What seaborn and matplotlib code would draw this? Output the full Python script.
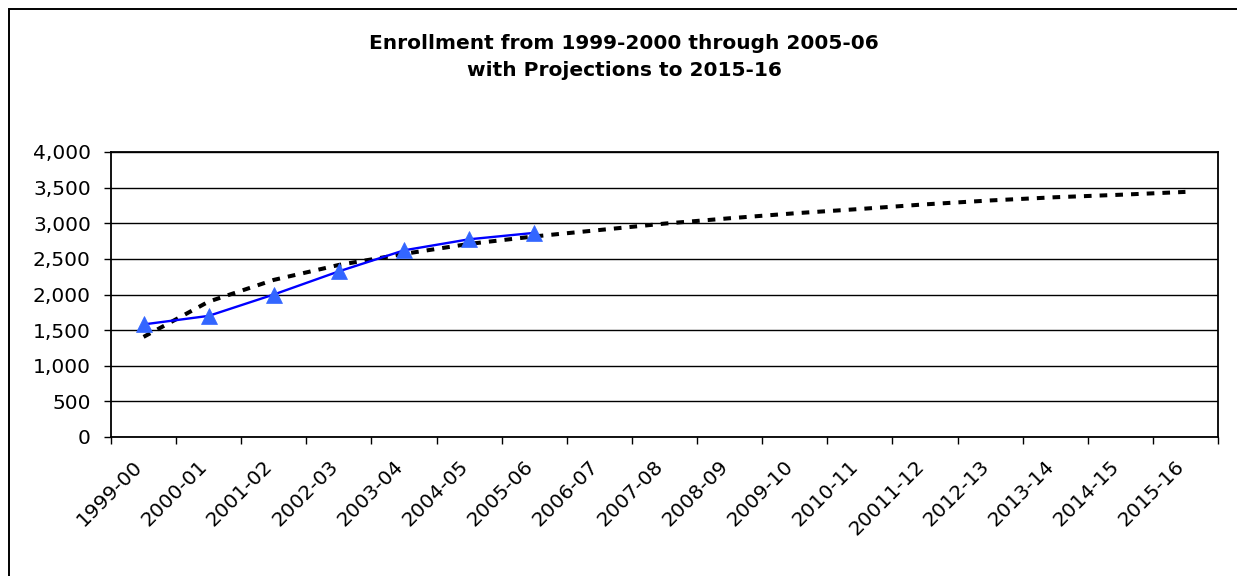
import matplotlib
matplotlib.use("Agg")
import matplotlib.pyplot as plt
import matplotlib.ticker as mticker
from matplotlib.transforms import ScaledTranslation
from matplotlib.patches import Rectangle
import numpy as np
import pandas as pd
import seaborn as sns

# School years on the category axis
years = ["1999-00", "2000-01", "2001-02", "2002-03", "2003-04", "2004-05",
         "2005-06", "2006-07", "2007-08", "2008-09", "2009-10", "2010-11",
         "20011-12", "2012-13", "2013-14", "2014-15", "2015-16"]

# Actual enrollment, 1999-00 through 2005-06
actual = [1580, 1700, 2000, 2325, 2620, 2775, 2865]

# Projected enrollment trend, 1999-00 through 2015-16
projected = [1405, 1900, 2205, 2415, 2570, 2710, 2815, 2905, 2995, 3070,
             3140, 3200, 3265, 3320, 3365, 3400, 3440]

y_ticks = [0, 500, 1000, 1500, 2000, 2500, 3000, 3500, 4000]

sns.set_theme(style="white")
plt.rcParams["font.family"] = ["DejaVu Sans"]

W, H = 1237, 576
fig = plt.figure(figsize=(W / 100, H / 100), dpi=100)
fig.patch.set_facecolor("white")

# outer chart frame (left and top edges show)
fig.add_artist(Rectangle((9 / W, -0.1), 1.2, (H - 9) / H + 0.1,
                         transform=fig.transFigure, fill=False,
                         edgecolor="black", linewidth=1.4))

ax = fig.add_axes([111 / W, (H - 437) / H, (1218 - 111) / W, (437 - 152) / H])
ax.set_facecolor("white")

pos_all = np.arange(len(years)) + 0.5
df_proj = pd.DataFrame({"pos": pos_all, "enrollment": projected})
df_act = pd.DataFrame({"pos": pos_all[:len(actual)], "enrollment": actual})

sns.lineplot(data=df_proj, x="pos", y="enrollment", ax=ax, color="black",
             linewidth=2.9, linestyle=(0, (1.9, 2.0)), zorder=3)
sns.lineplot(data=df_act, x="pos", y="enrollment", ax=ax, color="#0000FF",
             linewidth=1.7, marker="^", markersize=11,
             markerfacecolor="#3366FF", markeredgecolor="#3366FF",
             markeredgewidth=0.5, zorder=4)

ax.set_xlim(0, len(years))
ax.set_ylim(0, 4000)
ax.set_xlabel("")
ax.set_ylabel("")

# horizontal gridlines
ax.set_yticks(y_ticks)
ax.yaxis.set_major_formatter(mticker.FuncFormatter(lambda v, p: f"{int(v):,}"))
ax.grid(axis="y", color="black", linewidth=1.0)
ax.grid(axis="x", visible=False)
ax.set_axisbelow(True)

# category boundaries carry tick marks, labels sit at category centres
ax.set_xticks(np.arange(len(years) + 1))
ax.set_xticklabels([])
ax.set_xticks(pos_all, minor=True)
ax.set_xticklabels(years, minor=True, rotation=45, ha="right",
                   va="center", rotation_mode="anchor")
ax.tick_params(axis="x", which="major", direction="out", length=5,
               width=1.0, color="black", bottom=True)
ax.tick_params(axis="x", which="minor", length=0, pad=19,
               labelsize=14.5, labelcolor="black", bottom=True)
for lbl in ax.get_xticklabels(minor=True):
    lbl.set_transform(lbl.get_transform() +
                      ScaledTranslation(-4 / 100, 0, fig.dpi_scale_trans))
ax.tick_params(axis="y", direction="out", length=5, width=1.0,
               color="black", left=True, pad=9.5, labelsize=14.5,
               labelcolor="black")

for side, sp in ax.spines.items():
    sp.set_visible(True)
    sp.set_color("black")
    sp.set_linewidth(1.3)

fig.text(624 / W, 1 - 57 / H,
         "Enrollment from 1999-2000 through 2005-06\nwith Projections to 2015-16",
         ha="center", va="center", fontsize=14.5, fontweight="bold",
         linespacing=1.5, color="black")

fig.savefig("out.png", dpi=100, facecolor="white")
